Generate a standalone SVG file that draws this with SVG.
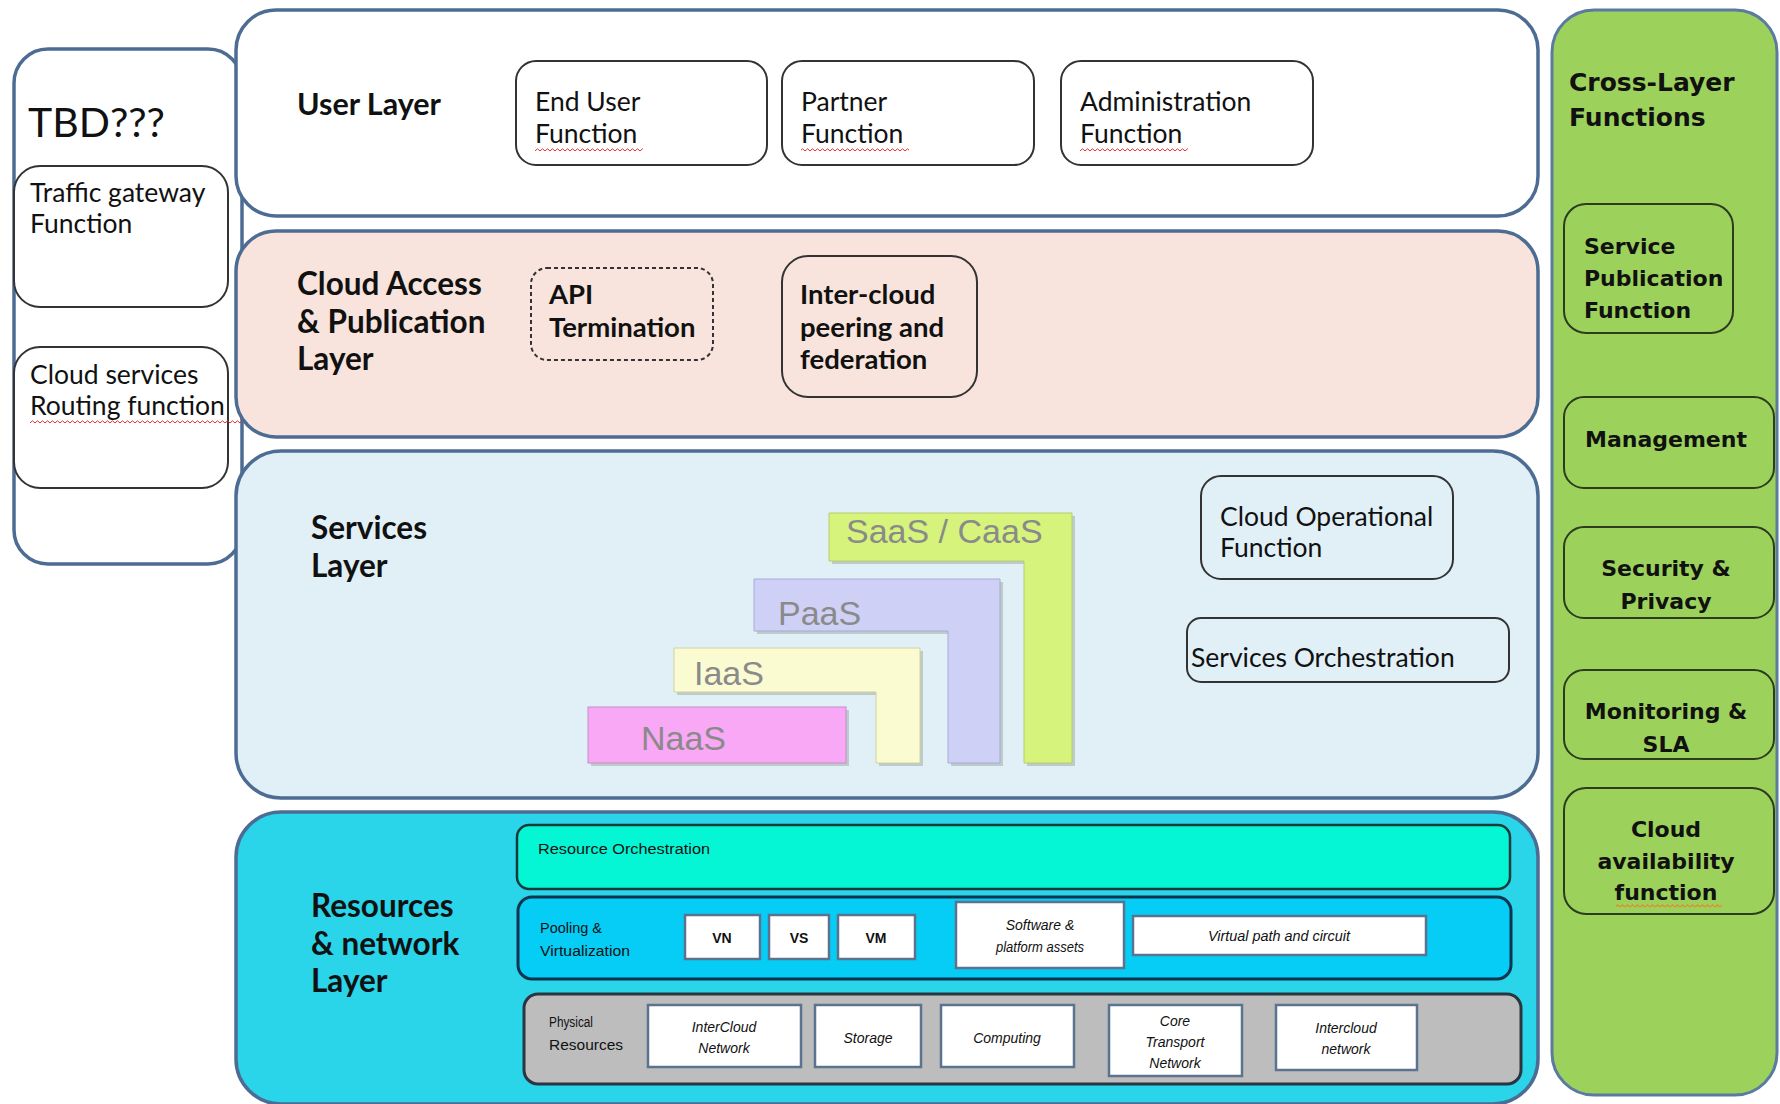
<svg xmlns="http://www.w3.org/2000/svg" width="1780" height="1104" viewBox="0 0 1780 1104">
<defs>
<style>
.layer{stroke:#4D6C94;stroke-width:3.5}
.box{fill:#fff;stroke:#333;stroke-width:2}
.lbl{font-family:Lato,"Liberation Sans",sans-serif;font-size:26.5px;fill:#111}
.bl{font-family:Lato,"Liberation Sans",sans-serif;font-weight:bold;fill:#111}
.gb{fill:none;stroke:#2D3B1F;stroke-width:2}
.gt{font-family:"DejaVu Sans",sans-serif;font-weight:bold;font-size:22px;fill:#111}
.gh{font-size:25px}
.aas{font-family:"Liberation Sans",Arial,sans-serif;font-size:34px;fill:#8A8A8A}
.tiny{font-family:"Liberation Sans",Arial,sans-serif;font-size:14px;fill:#111}
.wb{fill:#fff;stroke:#5C7390;stroke-width:2.5}
</style>
<pattern id="sq" width="5" height="4" patternUnits="userSpaceOnUse">
<path d="M0 3 L2.5 0.8 L5 3" fill="none" stroke="#E03030" stroke-width="1"/>
</pattern>
<pattern id="sqo" width="5" height="4" patternUnits="userSpaceOnUse">
<path d="M0 3 L2.5 0.8 L5 3" fill="none" stroke="#E08A30" stroke-width="1.2"/>
</pattern>
</defs>

<rect width="1780" height="1104" fill="#fff"/>

<g id="tbd">
<rect x="14" y="49" width="228" height="515" rx="34" fill="#fff" stroke="#4D6C94" stroke-width="3.5"/>
<text x="28" y="137" font-family="Lato,'Liberation Sans',sans-serif" font-size="41" fill="#111">TBD???</text>
</g>
<g id="traffic-gateway">
<rect x="14" y="166" width="214" height="141" rx="26" class="box"/>
<text class="lbl" x="30" y="202">Traffic gateway</text>
<text class="lbl" x="30" y="233">Function</text>
</g>
<g id="routing">
<rect x="14" y="347" width="214" height="141" rx="26" class="box"/>
<text class="lbl" x="30" y="384">Cloud services</text>
<text class="lbl" x="30" y="415">Routing function</text>
<rect x="30" y="419" width="212" height="4" fill="url(#sq)"/>
</g>

<g id="user-layer">
<rect x="236" y="10" width="1302" height="206" rx="40" fill="#fff" class="layer"/>
<text class="bl" x="297" y="115" font-size="30.5">User Layer</text>
</g>
<g id="end-user">
<rect x="516" y="61" width="251" height="104" rx="20" class="box"/>
<text class="lbl" x="535" y="111">End User</text>
<text class="lbl" x="535" y="143">Function</text>
<rect x="535" y="147" width="108" height="4" fill="url(#sq)"/>
</g>
<g id="partner">
<rect x="782" y="61" width="252" height="104" rx="20" class="box"/>
<text class="lbl" x="801" y="111">Partner</text>
<text class="lbl" x="801" y="143">Function</text>
<rect x="801" y="147" width="108" height="4" fill="url(#sq)"/>
</g>
<g id="admin">
<rect x="1061" y="61" width="252" height="104" rx="20" class="box"/>
<text class="lbl" x="1080" y="111">Administration</text>
<text class="lbl" x="1080" y="143">Function</text>
<rect x="1080" y="147" width="108" height="4" fill="url(#sq)"/>
</g>

<g id="access-layer">
<rect x="236" y="231" width="1302" height="206" rx="40" fill="#F8E4DC" class="layer"/>
<text class="bl" x="297" y="295" font-size="31.5">Cloud Access</text>
<text class="bl" x="297" y="333" font-size="31.5">&amp; Publication</text>
<text class="bl" x="297" y="370" font-size="31.5">Layer</text>
</g>
<g id="api-termination">
<rect x="531" y="268" width="182" height="92" rx="16" fill="none" stroke="#333" stroke-width="2" stroke-dasharray="4 3"/>
<text class="bl" x="549" y="304" font-size="27.5">API</text>
<text class="bl" x="549" y="337" font-size="27.5">Termination</text>
</g>
<g id="inter-cloud">
<rect x="782" y="256" width="195" height="141" rx="26" fill="none" stroke="#333" stroke-width="2"/>
<text class="bl" x="800" y="304" font-size="27.5">Inter-cloud</text>
<text class="bl" x="800" y="337" font-size="27.5">peering and</text>
<text class="bl" x="800" y="369" font-size="27.5">federation</text>
</g>

<g id="services-layer">
<rect x="236" y="451" width="1302" height="347" rx="45" fill="#E1F0F7" class="layer"/>
<text class="bl" x="311" y="539" font-size="31.5">Services</text>
<text class="bl" x="311" y="577" font-size="31.5">Layer</text>
</g>
<g id="saas">
<path d="M832 516 H1075 V766 H1027 V564 H832 Z" fill="#9AA6A0" opacity="0.5"/>
<path d="M829 513 H1072 V763 H1024 V561 H829 Z" fill="#D6F47C" stroke="#B8CC70" stroke-width="1"/>
<text class="aas" x="846" y="543">SaaS / CaaS</text>
</g>
<g id="paas">
<path d="M757 582 H1003 V766 H951 V634 H757 Z" fill="#9AA6A0" opacity="0.5"/>
<path d="M754 579 H1000 V763 H948 V631 H754 Z" fill="#CFD0F6" stroke="#A8AAD8" stroke-width="1"/>
<text class="aas" x="778" y="625">PaaS</text>
</g>
<g id="iaas">
<path d="M677 651 H923 V766 H879 V695 H677 Z" fill="#9AA6A0" opacity="0.5"/>
<path d="M674 648 H920 V763 H876 V692 H674 Z" fill="#FBFBD2" stroke="#D0D0A0" stroke-width="1"/>
<text class="aas" x="694" y="685">IaaS</text>
</g>
<g id="naas">
<rect x="591" y="710" width="258" height="56" fill="#9AA6A0" opacity="0.5"/>
<rect x="588" y="707" width="258" height="56" fill="#F8A8F5" stroke="#C090C8" stroke-width="1"/>
<text class="aas" x="641" y="750">NaaS</text>
</g>
<g id="cloud-operational">
<rect x="1201" y="476" width="252" height="103" rx="20" fill="none" stroke="#333" stroke-width="2"/>
<text class="lbl" x="1220" y="526">Cloud Operational</text>
<text class="lbl" x="1220" y="557">Function</text>
</g>
<g id="services-orchestration">
<rect x="1187" y="618" width="322" height="64" rx="14" fill="none" stroke="#333" stroke-width="2"/>
<text class="lbl" x="1191" y="667">Services Orchestration</text>
</g>

<g id="resources-layer">
<rect x="236" y="812" width="1302" height="292" rx="45" fill="#2AD4E9" class="layer"/>
<text class="bl" x="311" y="917" font-size="31.5">Resources</text>
<text class="bl" x="311" y="955" font-size="31.5">&amp; network</text>
<text class="bl" x="311" y="992" font-size="31.5">Layer</text>
</g>
<g id="resource-orchestration">
<rect x="517" y="825" width="993" height="64" rx="12" fill="#05F6D4" stroke="#1B3A3A" stroke-width="2.5"/>
<text class="tiny" x="538" y="854" textLength="172" lengthAdjust="spacingAndGlyphs">Resource Orchestration</text>
</g>
<g id="pooling">
<rect x="518" y="897" width="993" height="82" rx="14" fill="#05CDF5" stroke="#0E3550" stroke-width="3"/>
<text class="tiny" x="540" y="933" textLength="62" lengthAdjust="spacingAndGlyphs">Pooling &amp;</text>
<text class="tiny" x="540" y="956" textLength="90" lengthAdjust="spacingAndGlyphs">Virtualization</text>
</g>
<g id="vn">
<rect x="685" y="915" width="75" height="44" class="wb"/>
<text class="tiny" x="722" y="943" text-anchor="middle" font-weight="bold">VN</text>
</g>
<g id="vs">
<rect x="769" y="915" width="60" height="44" class="wb"/>
<text class="tiny" x="799" y="943" text-anchor="middle" font-weight="bold">VS</text>
</g>
<g id="vm">
<rect x="838" y="915" width="77" height="44" class="wb"/>
<text class="tiny" x="876" y="943" text-anchor="middle" font-weight="bold">VM</text>
</g>
<g id="software-assets">
<rect x="956" y="902" width="168" height="66" class="wb"/>
<text class="tiny" x="1040" y="930" text-anchor="middle" font-style="italic">Software &amp;</text>
<text class="tiny" x="1040" y="952" text-anchor="middle" font-style="italic" textLength="88" lengthAdjust="spacingAndGlyphs">platform assets</text>
</g>
<g id="virtual-path">
<rect x="1133" y="916" width="293" height="39" class="wb"/>
<text class="tiny" x="1279" y="941" text-anchor="middle" font-style="italic" textLength="142" lengthAdjust="spacingAndGlyphs">Virtual path and circuit</text>
</g>
<g id="physical">
<rect x="524" y="994" width="997" height="90" rx="14" fill="#BDBDBD" stroke="#2A3540" stroke-width="3"/>
<text class="tiny" x="549" y="1027" textLength="44" lengthAdjust="spacingAndGlyphs">Physical</text>
<text class="tiny" x="549" y="1050" textLength="74" lengthAdjust="spacingAndGlyphs">Resources</text>
</g>
<g id="intercloud-network">
<rect x="648" y="1005" width="153" height="62" class="wb"/>
<text class="tiny" x="724" y="1032" text-anchor="middle" font-style="italic">InterCloud</text>
<text class="tiny" x="724" y="1053" text-anchor="middle" font-style="italic">Network</text>
</g>
<g id="storage">
<rect x="815" y="1005" width="106" height="62" class="wb"/>
<text class="tiny" x="868" y="1043" text-anchor="middle" font-style="italic">Storage</text>
</g>
<g id="computing">
<rect x="941" y="1005" width="133" height="62" class="wb"/>
<text class="tiny" x="1007" y="1043" text-anchor="middle" font-style="italic">Computing</text>
</g>
<g id="core-transport">
<rect x="1109" y="1005" width="133" height="71" class="wb"/>
<text class="tiny" x="1175" y="1026" text-anchor="middle" font-style="italic">Core</text>
<text class="tiny" x="1175" y="1047" text-anchor="middle" font-style="italic">Transport</text>
<text class="tiny" x="1175" y="1068" text-anchor="middle" font-style="italic">Network</text>
</g>
<g id="intercloud-network-2">
<rect x="1276" y="1005" width="141" height="65" class="wb"/>
<text class="tiny" x="1346" y="1033" text-anchor="middle" font-style="italic">Intercloud</text>
<text class="tiny" x="1346" y="1054" text-anchor="middle" font-style="italic">network</text>
</g>

<g id="cross-layer">
<rect x="1552" y="10" width="225" height="1085" rx="42" fill="#9CD25C" stroke="#5A7AA0" stroke-width="3"/>
<text class="gt gh" x="1569" y="91">Cross-Layer</text>
<text class="gt gh" x="1569" y="126">Functions</text>
</g>
<g id="service-publication">
<rect x="1564" y="204" width="169" height="129" rx="22" class="gb"/>
<text class="gt" x="1584" y="254">Service</text>
<text class="gt" x="1584" y="286">Publication</text>
<text class="gt" x="1584" y="318">Function</text>
</g>
<g id="management">
<rect x="1564" y="397" width="210" height="91" rx="20" class="gb"/>
<text class="gt" x="1666" y="447" text-anchor="middle">Management</text>
</g>
<g id="security">
<rect x="1564" y="527" width="210" height="91" rx="20" class="gb"/>
<text class="gt" x="1666" y="576" text-anchor="middle">Security &amp;</text>
<text class="gt" x="1666" y="609" text-anchor="middle">Privacy</text>
</g>
<g id="monitoring">
<rect x="1564" y="670" width="210" height="89" rx="20" class="gb"/>
<text class="gt" x="1666" y="719" text-anchor="middle">Monitoring &amp;</text>
<text class="gt" x="1666" y="752" text-anchor="middle">SLA</text>
</g>
<g id="availability">
<rect x="1564" y="788" width="210" height="126" rx="22" class="gb"/>
<text class="gt" x="1666" y="837" text-anchor="middle">Cloud</text>
<text class="gt" x="1666" y="869" text-anchor="middle">availability</text>
<text class="gt" x="1666" y="900" text-anchor="middle">function</text>
<rect x="1616" y="904" width="106" height="4" fill="url(#sqo)"/>
</g>
<g id="connectors"></g>
</svg>
